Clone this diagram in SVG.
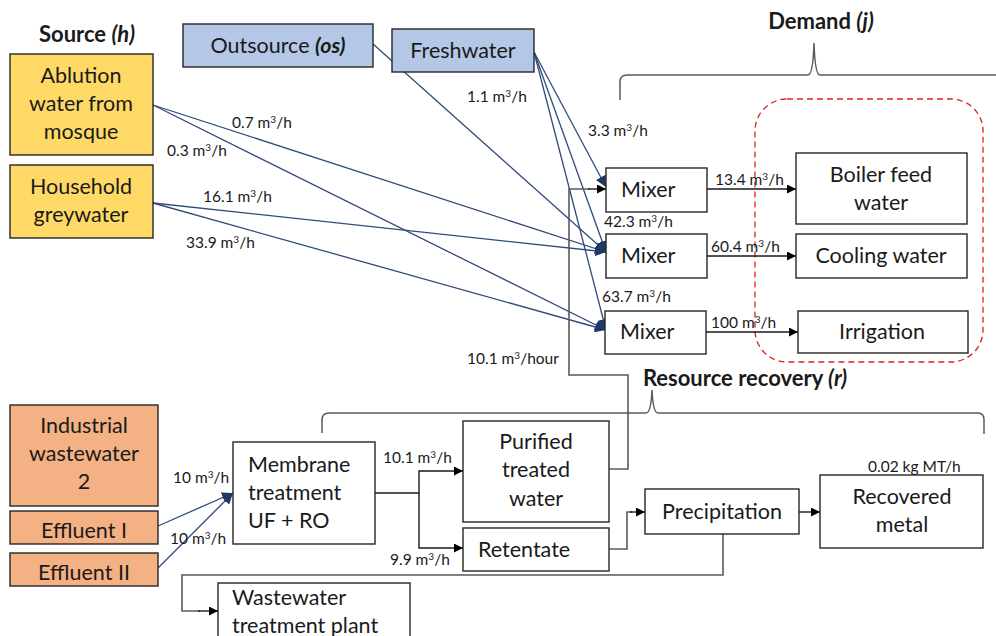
<svg xmlns="http://www.w3.org/2000/svg" width="996" height="636" viewBox="0 0 996 636">
<style>
text{font-family:Lato,"Open Sans","Liberation Sans",sans-serif;fill:#1a1a1a}
.box{fill:#fff;stroke:#262626;stroke-width:1.4}
.src{fill:#FFD966;stroke:#262626;stroke-width:1.4}
.ind{fill:#F4B183;stroke:#262626;stroke-width:1.4}
.os{fill:#B4C7E7;stroke:#262626;stroke-width:1.4}
.t{font-size:21.5px;text-anchor:middle}
.tl{font-size:21.5px}
.lab{font-size:15.5px}
.hd{font-size:22px;font-weight:bold}
.blue{fill:none;stroke:#2F4B7C;stroke-width:1.3;marker-end:url(#ab)}
.blk{fill:none;stroke:#1a1a1a;stroke-width:1.4;marker-end:url(#ak)}
.gry{fill:none;stroke:#5a5a5a;stroke-width:1.6}
.brace{fill:none;stroke:#5a5a5a;stroke-width:1.5}
</style>
<defs>
<marker id="ab" viewBox="0 0 10 10" refX="10" refY="5" markerWidth="11" markerHeight="11" markerUnits="userSpaceOnUse" orient="auto"><path d="M0,0L10,5L0,10z" fill="#203864"/></marker>
<marker id="ak" viewBox="0 0 10 10" refX="10" refY="5" markerWidth="9" markerHeight="9" markerUnits="userSpaceOnUse" orient="auto"><path d="M0,0L10,5L0,10z" fill="#000"/></marker>
</defs>

<!-- headings and braces -->
<g id="headings">
<text class="hd" x="87" y="42" text-anchor="middle">Source <tspan font-style="italic">(h)</tspan></text>
<text class="hd" x="821" y="29" text-anchor="middle">Demand <tspan font-style="italic">(j)</tspan></text>
<text class="hd" x="745" y="386" text-anchor="middle">Resource recovery <tspan font-style="italic">(r)</tspan></text>
<path class="brace" d="M620,100 L620,82 Q620,75 627,75 L808,75 Q813,75 814,43 Q815,75 820,75 L996,75"/>
<path class="brace" d="M322,433 L322,420 Q322,413 329,413 L646,413 Q651,413 652,390 Q653,413 658,413 L978,413 Q984,413 984,420 L984,434"/>
<rect x="755" y="99" width="228" height="263" rx="32" ry="32" fill="none" stroke="#E02020" stroke-width="1.3" stroke-dasharray="6,4"/>
</g>

<!-- connectors -->
<g id="connectors">
<path class="blue" d="M153,105 L606,252"/>
<path class="blue" d="M153,105 L606,330"/>
<path class="blue" d="M153,203 L606,252"/>
<path class="blue" d="M153,203 L606,330"/>
<path class="blue" d="M373,44 L606,252"/>
<path class="blue" d="M534,52 L606,187"/>
<path class="blue" d="M534,52 L606,252"/>
<path class="blue" d="M534,52 L606,330"/>
<path class="blue" d="M158,526 L233,493"/>
<path class="blue" d="M158,568 L233,493"/>
<path class="blk" d="M707,189 L796,189"/>
<path class="blk" d="M707,256 L796,256"/>
<path class="blk" d="M706,332 L798,332"/>
<path class="gry" d="M609,469 L628,469 L628,375 L569,375 L569,189 L590,189"/>
<path class="blk" d="M588,189 L606,189"/>
<path class="blk" d="M375,493 L419,493 L419,471 L463,471"/>
<path class="blk" d="M419,493 L419,548 L463,548"/>
<path class="gry" d="M609,549 L627,549 L627,512 L632,512"/>
<path class="blk" d="M630,512 L645,512"/>
<path class="blk" d="M799,512 L820,512"/>
<path class="gry" d="M723,534 L723,575 L182,575 L182,611 L200,611"/>
<path class="blk" d="M198,611 L218,611"/>
</g>

<!-- connector labels -->
<g id="labels">
<text class="lab" x="232" y="128">0.7 m<tspan dy="-5" font-size="10">3</tspan><tspan dy="5">/h</tspan></text>
<text class="lab" x="167" y="156">0.3 m<tspan dy="-5" font-size="10">3</tspan><tspan dy="5">/h</tspan></text>
<text class="lab" x="203" y="202">16.1 m<tspan dy="-5" font-size="10">3</tspan><tspan dy="5">/h</tspan></text>
<text class="lab" x="186" y="248">33.9 m<tspan dy="-5" font-size="10">3</tspan><tspan dy="5">/h</tspan></text>
<text class="lab" x="467" y="102">1.1 m<tspan dy="-5" font-size="10">3</tspan><tspan dy="5">/h</tspan></text>
<text class="lab" x="588" y="136">3.3 m<tspan dy="-5" font-size="10">3</tspan><tspan dy="5">/h</tspan></text>
<text class="lab" x="604" y="227">42.3 m<tspan dy="-5" font-size="10">3</tspan><tspan dy="5">/h</tspan></text>
<text class="lab" x="602" y="302">63.7 m<tspan dy="-5" font-size="10">3</tspan><tspan dy="5">/h</tspan></text>
<text class="lab" x="715" y="185">13.4 m<tspan dy="-5" font-size="10">3</tspan><tspan dy="5">/h</tspan></text>
<text class="lab" x="711" y="252">60.4 m<tspan dy="-5" font-size="10">3</tspan><tspan dy="5">/h</tspan></text>
<text class="lab" x="711" y="328">100 m<tspan dy="-5" font-size="10">3</tspan><tspan dy="5">/h</tspan></text>
<text class="lab" x="467" y="364">10.1 m<tspan dy="-5" font-size="10">3</tspan><tspan dy="5">/hour</tspan></text>
<text class="lab" x="173" y="483">10 m<tspan dy="-5" font-size="10">3</tspan><tspan dy="5">/h</tspan></text>
<text class="lab" x="170" y="544">10 m<tspan dy="-5" font-size="10">3</tspan><tspan dy="5">/h</tspan></text>
<text class="lab" x="383" y="463">10.1 m<tspan dy="-5" font-size="10">3</tspan><tspan dy="5">/h</tspan></text>
<text class="lab" x="390" y="565">9.9 m<tspan dy="-5" font-size="10">3</tspan><tspan dy="5">/h</tspan></text>
<text class="lab" x="868" y="472">0.02 kg MT/h</text>
</g>

<!-- nodes -->
<g id="ablution"><rect class="src" x="10" y="54" width="143" height="101"/><text class="t" x="81" y="83">Ablution</text><text class="t" x="81" y="111">water from</text><text class="t" x="81" y="139">mosque</text></g>
<g id="household"><rect class="src" x="10" y="165" width="143" height="73"/><text class="t" x="81" y="194">Household</text><text class="t" x="81" y="222">greywater</text></g>
<g id="outsource"><rect class="os" x="183" y="24" width="190" height="43"/><text class="t" x="278" y="53">Outsource <tspan font-weight="bold" font-style="italic">(os)</tspan></text></g>
<g id="freshwater"><rect class="os" x="392" y="29" width="142" height="43"/><text class="t" x="463" y="58">Freshwater</text></g>
<g id="mixer1"><rect class="box" x="606" y="168" width="101" height="44"/><text class="tl" x="621" y="197">Mixer</text></g>
<g id="mixer2"><rect class="box" x="606" y="234" width="101" height="44"/><text class="tl" x="621" y="263">Mixer</text></g>
<g id="mixer3"><rect class="box" x="605" y="311" width="101" height="43"/><text class="tl" x="620" y="339">Mixer</text></g>
<g id="boiler"><rect class="box" x="796" y="153" width="171" height="71"/><text class="t" x="881" y="182">Boiler feed</text><text class="t" x="881" y="210">water</text></g>
<g id="cooling"><rect class="box" x="796" y="234" width="171" height="44"/><text class="t" x="881" y="263">Cooling water</text></g>
<g id="irrigation"><rect class="box" x="798" y="311" width="170" height="42"/><text class="t" x="882" y="339">Irrigation</text></g>
<g id="industrial"><rect class="ind" x="10" y="405" width="148" height="101"/><text class="t" x="84" y="433">Industrial</text><text class="t" x="84" y="461">wastewater</text><text class="t" x="84" y="489">2</text></g>
<g id="effluent1"><rect class="ind" x="10" y="511" width="148" height="33"/><text class="t" x="84" y="538">Effluent I</text></g>
<g id="effluent2"><rect class="ind" x="10" y="553" width="148" height="33"/><text class="t" x="84" y="580">Effluent II</text></g>
<g id="membrane"><rect class="box" x="233" y="442" width="142" height="102"/><text class="tl" x="248" y="472">Membrane</text><text class="tl" x="248" y="500">treatment</text><text class="tl" x="248" y="528">UF + RO</text></g>
<g id="purified"><rect class="box" x="463" y="421" width="146" height="101"/><text class="t" x="536" y="449">Purified</text><text class="t" x="536" y="477">treated</text><text class="t" x="536" y="506">water</text></g>
<g id="retentate"><rect class="box" x="463" y="528" width="146" height="43"/><text class="tl" x="478" y="557">Retentate</text></g>
<g id="precipitation"><rect class="box" x="645" y="489" width="154" height="45"/><text class="t" x="722" y="519">Precipitation</text></g>
<g id="recovered"><rect class="box" x="820" y="475" width="163" height="73"/><text class="t" x="902" y="504">Recovered</text><text class="t" x="902" y="532">metal</text></g>
<g id="wwtp"><rect class="box" x="218" y="583" width="192" height="60"/><text class="tl" x="232" y="605">Wastewater</text><text class="tl" x="232" y="633">treatment plant</text></g>
</svg>
